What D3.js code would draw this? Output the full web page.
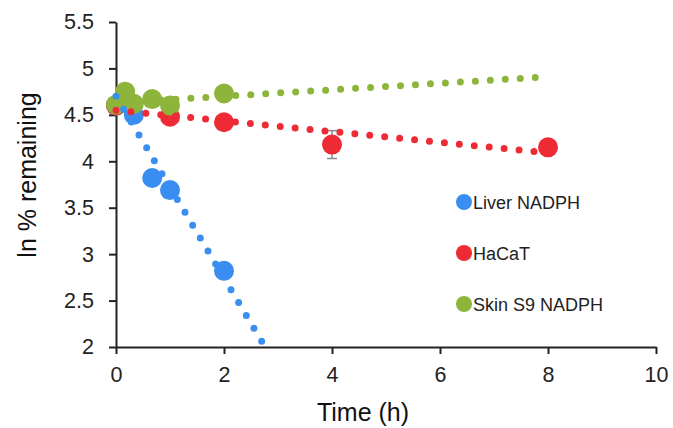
<!DOCTYPE html>
<html>
<head>
<meta charset="utf-8">
<script src="https://cdn.jsdelivr.net/npm/d3@7"></script>
<style>
  body { margin: 0; background: #fff; }
  svg { display: block; font-family: Arial, "Liberation Sans", sans-serif; }
</style>
</head>
<body>
<svg width="673" height="428"></svg>
<script>
// series names and colours
var seriesNames = ["Liver NADPH", "HaCaT", "Skin S9 NADPH"];
var seriesColors = ["#3a8ef1", "#ee2a35", "#8db53b"];

// measured points (time h, ln % remaining)
var liverTime = [0, 0.33, 0.67, 1, 2];
var liverValue = [4.6, 4.5, 3.82, 3.69, 2.82];
var hacatTime = [0, 1, 2, 4, 8];
var hacatValue = [4.6, 4.48, 4.42, 4.18, 4.15];
var hacatErr = [0, 0, 0, 0.15, 0];
var skinTime = [0, 0.17, 0.33, 0.67, 1, 2];
var skinValue = [4.61, 4.75, 4.62, 4.67, 4.6, 4.73];

// trendline end points
var liverTrend = [[0, 4.70], [2.76, 2.0]];
var hacatTrend = [[0, 4.55], [8, 4.09]];
var skinTrend = [[0, 4.63], [8, 4.91]];

var xTicks = [0, 2, 4, 6, 8, 10];
var yTicks = [2, 2.5, 3, 3.5, 4, 4.5, 5, 5.5];

var svg = d3.select("svg");

var x = d3.scaleLinear().domain([0, 10]).range([116, 656]);
var y = d3.scaleLinear().domain([2, 5.5]).range([347, 22]);

// axes
var xAxis = svg.append("g")
    .attr("transform", "translate(0," + y(2) + ")")
    .call(d3.axisBottom(x).tickValues(xTicks).tickSize(7).tickSizeOuter(0).tickPadding(13));
var yAxis = svg.append("g")
    .attr("transform", "translate(" + x(0) + ",0)")
    .call(d3.axisLeft(y).tickValues(yTicks).tickSize(7).tickSizeOuter(0).tickPadding(15)
        .tickFormat(function(d) { return d; }));

[xAxis, yAxis].forEach(function(a) {
    a.select(".domain").attr("stroke", "#222").attr("stroke-width", 2);
    a.selectAll(".tick line").attr("stroke", "#222").attr("stroke-width", 2);
    a.selectAll(".tick text")
        .attr("fill", "#222")
        .style("font-size", "21.5px")
        .style("font-family", "Arial, 'Liberation Sans', sans-serif");
});

// axis titles
svg.append("text")
    .attr("x", 363)
    .attr("y", 421)
    .attr("text-anchor", "middle")
    .attr("fill", "#111")
    .style("font-size", "25px")
    .text("Time (h)");

svg.append("text")
    .attr("transform", "translate(36,175) rotate(-90)")
    .attr("text-anchor", "middle")
    .attr("fill", "#111")
    .style("font-size", "25px")
    .text("ln % remaining");

// measured series
var series = [
    { t: liverTime, v: liverValue },
    { t: hacatTime, v: hacatValue },
    { t: skinTime, v: skinValue }
];

// error bars
var errG = svg.append("g");
hacatTime.forEach(function(t, i) {
    if (!hacatErr[i]) return;
    var lo = y(hacatValue[i] - hacatErr[i]), hi = y(hacatValue[i] + hacatErr[i]);
    errG.append("line").attr("x1", x(t)).attr("x2", x(t)).attr("y1", lo).attr("y2", hi);
    errG.append("line").attr("x1", x(t) - 5).attr("x2", x(t) + 5).attr("y1", lo).attr("y2", lo);
    errG.append("line").attr("x1", x(t) - 5).attr("x2", x(t) + 5).attr("y1", hi).attr("y2", hi);
});
errG.selectAll("line").attr("stroke", "#8a8a8a").attr("stroke-width", 1.5);

series.forEach(function(s, k) {
    svg.append("g")
        .selectAll("circle")
        .data(s.t)
        .enter().append("circle")
        .attr("cx", function(d) { return x(d); })
        .attr("cy", function(d, i) { return y(s.v[i]); })
        .attr("r", 10)
        .attr("fill", seriesColors[k]);
});

// dotted trendlines
var line = d3.line()
    .x(function(d) { return x(d[0]); })
    .y(function(d) { return y(d[1]); });

[liverTrend, hacatTrend, skinTrend].forEach(function(tr, k) {
    svg.append("path")
        .attr("d", line(tr))
        .attr("fill", "none")
        .attr("stroke", seriesColors[k])
        .attr("stroke-width", 7)
        .attr("stroke-linecap", "round")
        .attr("stroke-dasharray", "0 15");
});

// legend
var legend = svg.append("g")
    .selectAll("g")
    .data(seriesNames)
    .enter().append("g")
    .attr("transform", function(d, i) { return "translate(464," + (202 + i * 51) + ")"; });

legend.append("circle")
    .attr("r", 8)
    .attr("fill", function(d, i) { return seriesColors[i]; });

legend.append("text")
    .attr("x", 9)
    .attr("y", 6.5)
    .attr("fill", "#222")
    .style("font-size", "18px")
    .text(function(d) { return d; });
</script>
</body>
</html>
